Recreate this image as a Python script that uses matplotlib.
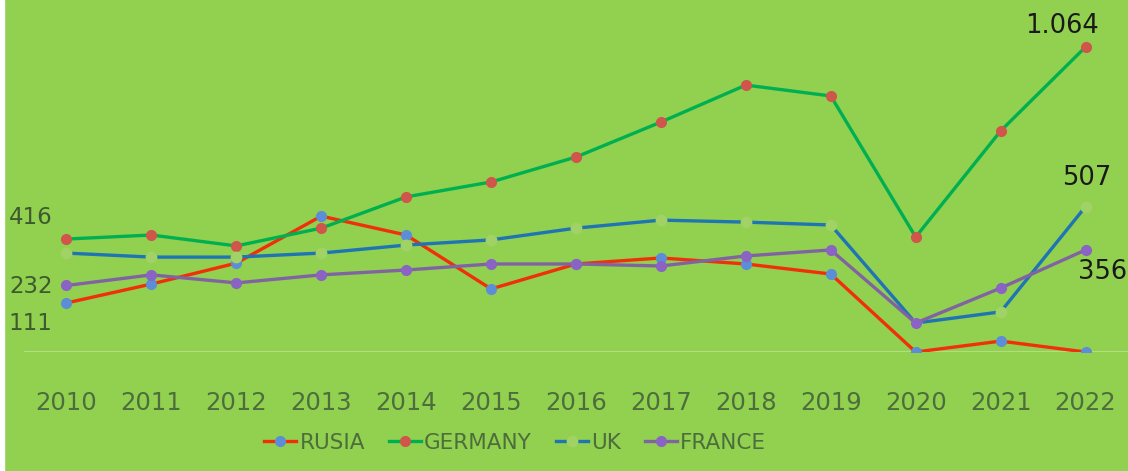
import matplotlib
matplotlib.use("Agg")
import matplotlib.pyplot as plt
from matplotlib.patches import Rectangle

years = ["2010", "2011", "2012", "2013", "2014", "2015", "2016",
         "2017", "2018", "2019", "2020", "2021", "2022"]
rusia = [171, 237, 310, 474, 408, 220, 307, 328, 307, 272, 0, 38, 0]
germany = [394, 408, 370, 432, 541, 593, 680, 802, 931, 893, 401, 771, 1064]
uk = [345, 331, 331, 345, 373, 391, 432, 460, 453, 443, 101, 140, 507]
france = [232, 269, 241, 269, 286, 307, 307, 300, 335, 356, 101, 223, 356]

bg = "#92d050"
txt = "#4d6e3c"
plt.rcParams["font.family"] = ["DejaVu Sans"]

fig = plt.figure(figsize=(11.28, 4.71), dpi=100, facecolor=bg)
ax = fig.add_axes([24 / 1128, 1 - 352 / 471, 1104 / 1128, 352 / 471])
ax.set_facecolor(bg)

x = list(range(len(years)))
ax.plot(x, rusia, color="#f0300a", lw=2.4, marker="o", ms=7,
        mfc="#5b8ed6", mec="#5b8ed6", label="RUSIA", zorder=3)
ax.plot(x, germany, color="#00b050", lw=2.4, marker="o", ms=7,
        mfc="#d0554a", mec="#d0554a", label="GERMANY", zorder=3)
# UK: line broken by pale markers at each point
ax.plot(x, uk, color="#1f74b4", lw=2.4, marker="o", ms=7.5,
        mfc="#a0d266", mec="#a0d266", label="UK", zorder=3)
ax.plot(x, france, color="#8064a2", lw=2.4, marker="o", ms=7,
        mfc="#8a63c4", mec="#8a63c4", label="FRANCE", zorder=3)

ax.axhline(0, color="#b9e08e", lw=1.2, zorder=1)

ax.set_xlim(-0.5, len(years) - 0.5)
ax.set_ylim(0, 352 / 0.2867)
ax.set_xticks(x)
ax.set_xticklabels(years, fontsize=17.5, color=txt)
ax.tick_params(axis="x", length=0, pad=28)
ax.set_yticks([])
for s in ax.spines.values():
    s.set_visible(False)

# data labels
ax.text(11.72, 1137, "1.064", fontsize=18.5, color="#1a1a1a", ha="center", va="center")
ax.text(12.02, 607, "507", fontsize=18.5, color="#1a1a1a", ha="center", va="center")
ax.text(12.2, 279, "356", fontsize=18.5, color="#1a1a1a", ha="center", va="center")
ax.text(-0.42, 468, "416", fontsize=16.5, color="#3d5a2e", ha="center", va="center")
ax.text(-0.42, 230, "232", fontsize=16.5, color="#3d5a2e", ha="center", va="center")
ax.text(-0.42, 101, "111", fontsize=16.5, color="#3d5a2e", ha="center", va="center")

leg = fig.legend(loc="center", bbox_to_anchor=(515 / 1128, 1 - 443 / 471), ncol=4,
                 frameon=False, fontsize=15.5, handlelength=1.5, columnspacing=1.1,
                 handletextpad=0.15)
for t in leg.get_texts():
    t.set_color(txt)

fig.patches.append(Rectangle((0, 0), 4 / 1128, 1, transform=fig.transFigure,
                             color="white", zorder=10))

fig.savefig("out.png", dpi=100, facecolor=bg)
